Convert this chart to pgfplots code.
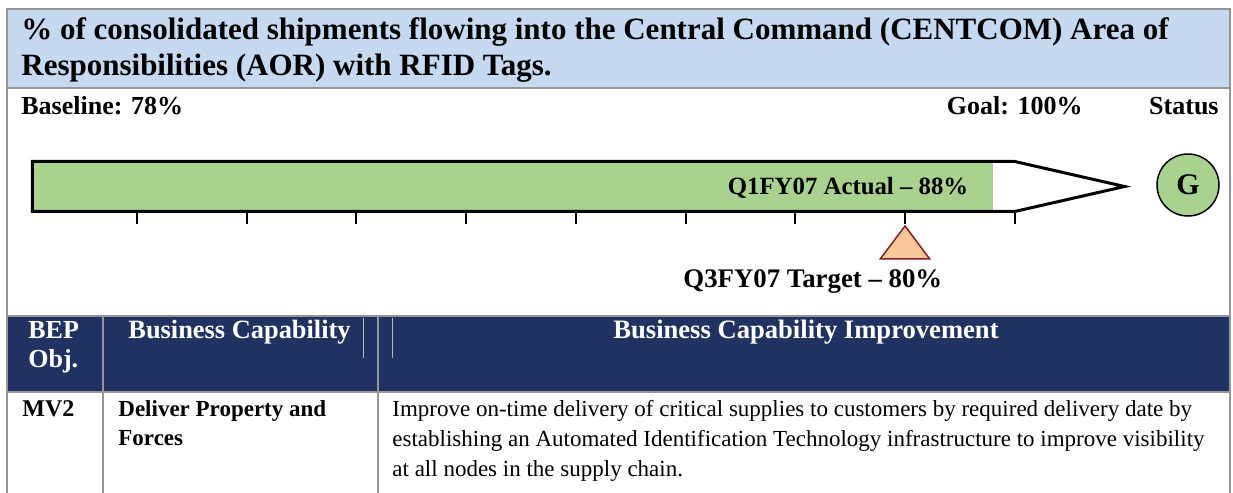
\documentclass[border=0pt]{standalone}
\usepackage{fontspec}
\setmainfont{Liberation Serif}
\usepackage{pgfplots}
\pgfplotsset{compat=1.18}
\definecolor{HeadBlue}{RGB}{197,217,241}
\definecolor{Navy}{RGB}{32,50,98}
\definecolor{BarGreen}{RGB}{168,210,142}
\definecolor{TriFill}{RGB}{250,200,152}
\definecolor{TriEdge}{RGB}{140,30,30}
\definecolor{Rule}{RGB}{150,150,150}

\begin{document}
\begin{tikzpicture}[every node/.style={inner sep=0pt}]
% page layout in pixel units (1 px = 0.5pt)
\begin{axis}[
    name=page, at={(0,0)}, anchor=south west,
    scale only axis, width=616.5pt, height=246.5pt,
    xmin=0, xmax=1233, ymin=0, ymax=493, y dir=reverse,
    hide axis, clip=false]
% filled bands
\addplot[draw=none, fill=HeadBlue] coordinates {(7,9)(1230,9)(1230,88)(7,88)} -- cycle;
\addplot[draw=none, fill=Navy] coordinates {(7,316)(1230,316)(1230,392)(7,392)} -- cycle;
% rules
\addplot[Rule, line width=1pt] coordinates {(6,9)(1231,9)};
\addplot[Rule, line width=1pt] coordinates {(7,9)(7,493)};
\addplot[Rule, line width=1pt] coordinates {(1230,9)(1230,493)};
\addplot[Rule, line width=1pt] coordinates {(7,88)(1230,88)};
\addplot[Rule, line width=1pt] coordinates {(7,316)(1230,316)};
\addplot[Rule, line width=1pt] coordinates {(7,392)(1230,392)};
\addplot[Rule, line width=1pt] coordinates {(103,316)(103,493)};
\addplot[Rule, line width=1pt] coordinates {(378,316)(378,493)};
\addplot[gray!55, line width=0.4pt] coordinates {(363,318)(363,358)};
\addplot[gray!55, line width=0.4pt] coordinates {(392,318)(392,358)};
% status
\addplot[only marks, mark=*, mark size=15.5pt,
    mark options={fill=BarGreen, draw=black, line width=0.75pt},
    nodes near coords={G},
    every node near coord/.style={anchor=center, inner sep=0pt,
        font=\fontsize{15}{18}\selectfont\bfseries}] coordinates {(1188,185)};
% titles and labels
\node[anchor=base west, font=\fontsize{15.5}{18}\selectfont\bfseries] at (axis cs:21,39)
    {\% of consolidated shipments flowing into the Central Command (CENTCOM) Area of};
\node[anchor=base west, font=\fontsize{15.5}{18}\selectfont\bfseries] at (axis cs:21,75)
    {Responsibilities (AOR) with RFID Tags.};
\node[anchor=base west, font=\fontsize{13}{15}\selectfont\bfseries] at (axis cs:21,114) {Baseline: 78\%};
\node[anchor=base east, font=\fontsize{13}{15}\selectfont\bfseries] at (axis cs:1083,114) {Goal: 100\%};
\node[anchor=base east, font=\fontsize{13}{15}\selectfont\bfseries] at (axis cs:1219,114) {Status};
% table header
\node[anchor=base west, text=white, font=\fontsize{13}{15}\selectfont\bfseries] at (axis cs:28,338) {BEP};
\node[anchor=base west, text=white, font=\fontsize{13}{15}\selectfont\bfseries] at (axis cs:28,367) {Obj.};
\node[anchor=base west, text=white, font=\fontsize{13.2}{15}\selectfont\bfseries] at (axis cs:128,338) {Business Capability};
\node[anchor=base, text=white, font=\fontsize{13.3}{15}\selectfont\bfseries] at (axis cs:806,338) {Business Capability Improvement};
% table row
\node[anchor=base west, font=\fontsize{12}{14}\selectfont\bfseries] at (axis cs:22,416) {MV2};
\node[anchor=base west, font=\fontsize{11.5}{14}\selectfont\bfseries] at (axis cs:118,416) {Deliver Property and};
\node[anchor=base west, font=\fontsize{11.5}{14}\selectfont\bfseries] at (axis cs:118,445) {Forces};
\node[anchor=base west, font=\fontsize{11.5}{14}\selectfont] at (axis cs:392,416)
    {Improve on-time delivery of critical supplies to customers by required delivery date by};
\node[anchor=base west, font=\fontsize{11.5}{14}\selectfont] at (axis cs:392,446)
    {establishing an Automated Identification Technology infrastructure to improve visibility};
\node[anchor=base west, font=\fontsize{11.5}{14}\selectfont] at (axis cs:392,476)
    {at all nodes in the supply chain.};
\end{axis}

% progress bar in percent units: 0 at left edge, 100 at the arrow tip
\begin{axis}[
    at={(13.5pt,140.75pt)}, anchor=south west,
    scale only axis, width=548.75pt, height=25pt,
    xmin=0, xmax=100, ymin=0, ymax=1, clip=false,
    axis x line*=bottom, axis y line=none,
    x axis line style={draw=none},
    xtick={10,20,...,90}, xticklabels={},
    tick align=outside, major tick length=6.5pt,
    tick style={black, line width=1pt}]
\addplot[draw=none, fill=BarGreen] coordinates {(0.5,0)(88,0)(88,1)(0.5,1)} -- cycle;
\addplot[black, line width=1.5pt, line join=miter] coordinates {(0.5,0)(0.5,1)(90,1)(100,0.5)(90,0)} -- cycle;
\node[anchor=base east, font=\fontsize{12.4}{15}\selectfont\bfseries] at (axis cs:85.8,0.33) {Q1FY07 Actual – 88\%};
\addplot[only marks, mark=triangle*, mark size=11pt,
    mark options={xscale=1.3, fill=TriFill, draw=TriEdge, line width=0.75pt}] coordinates {(80,-0.73)};
\node[anchor=base, font=\fontsize{13.4}{15}\selectfont\bfseries] at (axis cs:71.6,-1.53) {Q3FY07 Target – 80\%};
\end{axis}
\pgfresetboundingbox
\path[use as bounding box] (0,0) rectangle (616.5pt,246.5pt);
\end{tikzpicture}
\end{document}
